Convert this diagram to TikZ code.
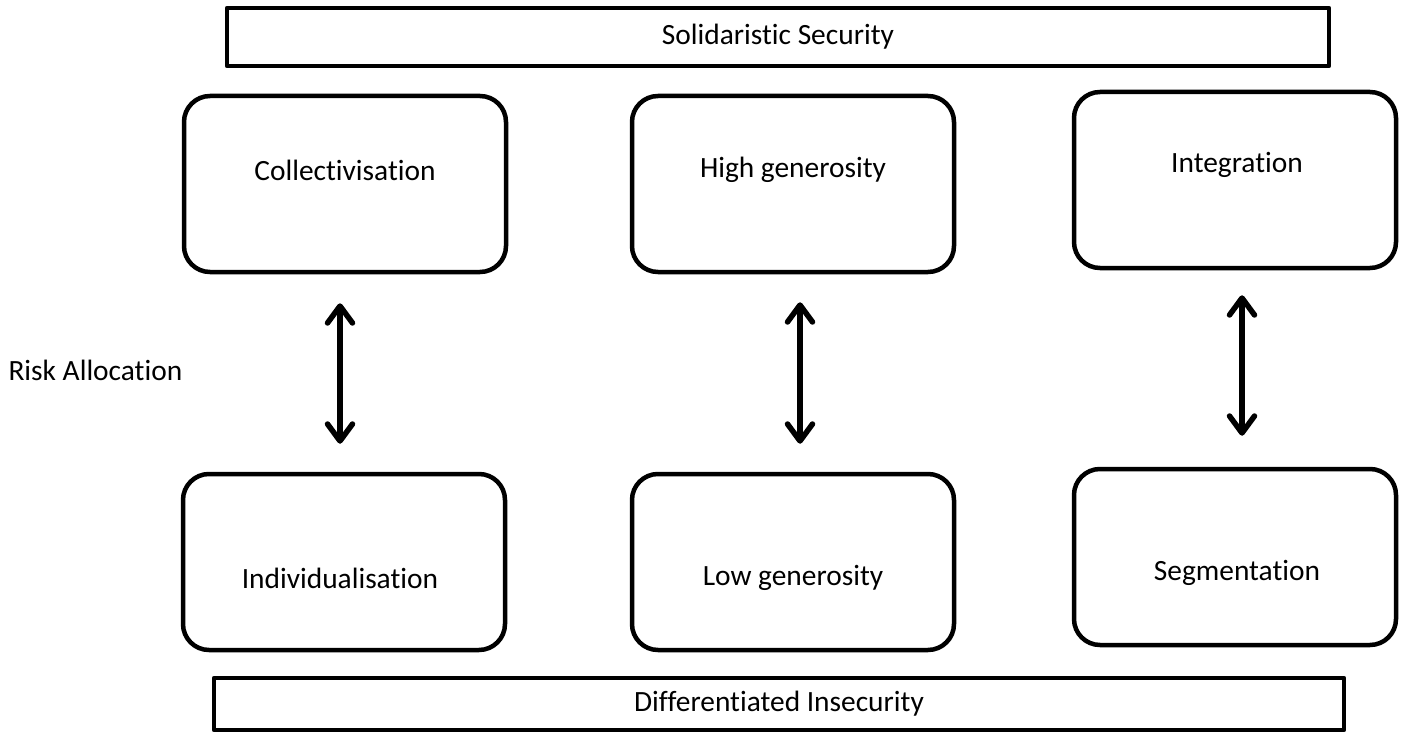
\documentclass[tikz,border=0pt]{standalone}
\usepackage{fontspec}
\setmainfont{Carlito}[Ligatures=NoCommon]
\usetikzlibrary{arrows.meta}
\begin{document}
\begin{tikzpicture}[x=1pt,y=-1pt,
  every node/.style={font=\fontsize{29.4}{34}\selectfont},
  bar/.style={draw,line width=4.5pt,line join=round,rectangle,inner sep=0pt},
  card/.style={draw,line width=4.5pt,rounded corners=26pt,rectangle,inner sep=0pt,
    minimum width=322pt,minimum height=176pt},
  barb/.tip={Straight Barb[length=17pt,width=25pt,line width=5.5pt,round]},
  dbl/.style={line width=5.5pt,line cap=round,line join=round,barb-barb}
]
\useasboundingbox (0,0) rectangle (1401,733);

% top and bottom bars
\node[bar,minimum width=1102pt,minimum height=58pt] (top) at (778,37) {Solidaristic Security};
\node[bar,minimum width=1130pt,minimum height=52pt] (bot) at (779,704) {Differentiated Insecurity};

% upper row
\node[card] (c1) at (345,184) {};
\node[card] (c2) at (793,184) {};
\node[card] (c3) at (1235,180) {};
% lower row
\node[card] (d1) at (344,562) {};
\node[card] (d2) at (793,562) {};
\node[card] (d3) at (1235,557) {};

% labels inside the cards
\node at (345,170) {Collectivisation};
\node at (793,170) {High generosity};
\node at (1237,165) {Integration};
\node at (340,578) {Individualisation};
\node at (793,578) {Low generosity};
\node at (1237,573) {Segmentation};

\node[anchor=west] (ra) at (5,370) {Risk Allocation};

% two-headed arrows between the rows
\draw[dbl] ([xshift=-5pt,yshift=-29pt]c1.south) -- ([xshift=-4pt,yshift=28pt]d1.north);
\draw[dbl] ([xshift=7pt,yshift=-28pt]c2.south) -- ([xshift=7pt,yshift=28pt]d2.north);
\draw[dbl] ([xshift=7pt,yshift=-25pt]c3.south) -- ([xshift=7pt,yshift=31pt]d3.north);
\end{tikzpicture}
\end{document}
